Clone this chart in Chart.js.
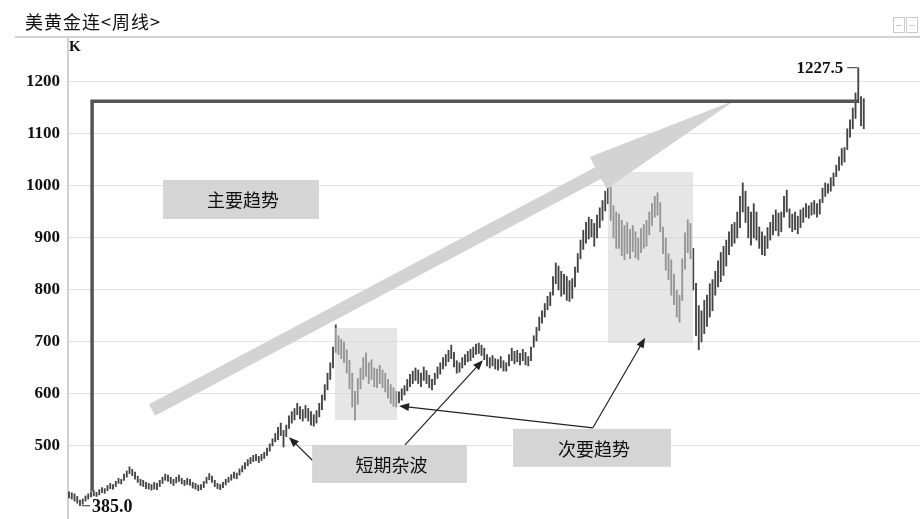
<!DOCTYPE html>
<html>
<head>
<meta charset="utf-8">
<script src="https://cdn.jsdelivr.net/npm/chart.js@4.4.0/dist/chart.umd.min.js"></script>
<style>
  html, body { margin: 0; padding: 0; background: #fff; }
  #wrap { position: relative; width: 920px; height: 519px; overflow: hidden; }
  #chart { position: absolute; left: 0; top: 0; }
  #title { position: absolute; left: 25px; top: 8px; font: 18px "Noto Sans CJK SC"; color: #111; letter-spacing: 1px; }
  #header-line { position: absolute; left: 15px; top: 36px; width: 905px; height: 2px; background: #d2d2d2; }
  #unit { position: absolute; left: 69px; top: 38px; font: bold 15px "Liberation Serif"; color: #111; }
  .ico { position: absolute; top: 17px; width: 12px; height: 16px; border: 1px solid #c9c9c9; box-sizing: border-box; }
  .ico::after { content: ""; position: absolute; left: 2px; right: 2px; top: 7px; height: 1px; background: #c9c9c9; }
</style>
</head>
<body>
<div id="wrap">
  <canvas id="chart" width="920" height="519"></canvas>
  <div id="title">美黄金连&lt;周线&gt;</div>
  <div id="header-line"></div>
  <div id="unit">K</div>
  <div class="ico" style="left:893px"></div>
  <div class="ico" style="left:906px"></div>
</div>
<script>
// weekly bars (one entry per week)
const highs = [
  412, 410, 408, 403, 396, 398, 404, 408, 412, 414,
  411, 416, 420, 418, 424, 428, 426, 432, 438, 436,
  446, 452, 460, 455, 450, 442, 436, 434, 430, 428,
  426, 430, 428, 434, 440, 446, 444, 440, 436, 440,
  444, 438, 434, 438, 436, 430, 428, 425, 426, 432,
  440, 447, 442, 434, 428, 426, 430, 436, 440, 445,
  450, 448, 456, 462, 468, 474, 478, 482, 484, 480,
  484, 488, 496, 504, 514, 524, 536, 544, 530, 540,
  558, 566, 572, 582, 576, 570, 578, 572, 566, 560,
  568, 582, 598, 618, 640, 660, 690, 733, 712, 705,
  700, 685, 665, 640, 605, 630, 650, 670, 679, 660,
  666, 650, 648, 655, 646, 640, 628, 618, 612, 605,
  604, 610, 616, 628, 638, 644, 650, 646, 640, 652,
  645, 636, 628, 640, 652, 660, 670, 676, 684, 694,
  680, 664, 660, 670, 676, 682, 686, 690, 696, 698,
  694, 688, 676, 670, 674, 668, 666, 672, 664, 660,
  676, 688, 682, 684, 678, 686, 680, 672, 690, 712,
  728, 748, 760, 774, 788, 796, 826, 852, 846, 836,
  830, 826, 818, 822, 844, 870, 896, 915, 930, 940,
  936, 928, 944, 958, 972, 990, 1004, 998, 962, 950,
  946, 934, 924, 930, 916, 924, 912, 900, 918, 926,
  934, 950, 966, 980, 987, 968, 921, 900, 870, 858,
  830, 800, 790, 860, 910, 935, 928, 880, 813, 770,
  760, 780, 790, 812, 820, 836, 856, 872, 884, 896,
  912, 926, 930, 950, 980, 1006, 990, 960, 950, 966,
  950, 921, 912, 904, 920, 930, 944, 954, 948, 950,
  980, 992, 956, 946, 950, 942, 954, 958, 966, 962,
  968, 972, 966, 974, 996, 1006, 1004, 1016, 1025, 1040,
  1056, 1072, 1074, 1110, 1127, 1150, 1179, 1227.5, 1172, 1168
];
const lows = [
  400, 398, 394, 390, 385, 388, 394, 398, 402, 404,
  403, 406, 410, 409, 414, 418, 417, 422, 428, 427,
  434, 440, 447, 443, 436, 430, 424, 422, 418, 417,
  415, 417, 416, 422, 428, 434, 432, 428, 424, 429,
  432, 427, 424, 426, 424, 419, 417, 414, 416, 420,
  428, 435, 430, 422, 418, 416, 420, 425, 430, 434,
  438, 437, 444, 450, 456, 462, 466, 470, 472, 468,
  472, 476, 482, 490, 500, 508, 512, 520, 498, 518,
  534, 544, 550, 560, 552, 548, 554, 548, 540, 538,
  544, 556, 570, 588, 608, 628, 650, 680, 676, 668,
  660, 640, 610, 575, 550, 580, 610, 628, 634, 620,
  628, 614, 612, 620, 612, 604, 592, 582, 576, 575,
  583, 588, 598, 606, 614, 620, 626, 620, 614, 626,
  620, 612, 608, 618, 630, 638, 648, 654, 662, 668,
  652, 640, 642, 650, 656, 662, 664, 670, 676, 678,
  674, 666, 654, 650, 654, 648, 646, 650, 644, 644,
  654, 664, 658, 662, 656, 664, 656, 654, 664, 690,
  702, 722, 736, 748, 762, 770, 790, 812, 800, 788,
  792, 780, 778, 784, 806, 834, 860, 878, 890, 898,
  902, 884, 900, 920, 934, 952, 966, 934, 900, 880,
  880, 866, 858, 870, 860, 874, 862, 858, 872, 880,
  884, 906, 924, 940, 944, 912, 870, 838, 820, 790,
  772, 748, 738, 780, 840, 872, 860, 800, 712, 685,
  700, 716, 730, 748, 760, 790, 806, 816, 828, 846,
  868, 884, 890, 900, 920, 950, 930, 900, 886, 900,
  896, 880, 868, 866, 880, 896, 906, 914, 904, 912,
  940, 950, 920, 912, 916, 908, 920, 930, 940, 938,
  944, 946, 940, 946, 968, 980, 986, 990, 1000, 1018,
  1030, 1040, 1046, 1070, 1094, 1110, 1130, 1160, 1116, 1110
];
const yTicks = [500, 600, 700, 800, 900, 1000, 1100, 1200];

// annotations, in chart units (week index, price)
const notes = {
  frame: [[8.4, 413], [8.4, 1163], [286.9, 1163]],
  trend: [[30.2, 569], [242.2, 1165]],
  shade: [[96.7, 727, 119.3, 550], [196, 1027, 226.9, 698]],
  tags: [
    { text: '主要趋势', box: [34.2, 1011.5, 90.9, 936.5] },
    { text: '短期杂波', box: [88.4, 502, 144.7, 429] },
    { text: '次要趋势', box: [161.5, 533, 218.9, 460] }
  ],
  pointers: [
    [[88.4, 473], [80, 517]],
    [[122.2, 502], [150.5, 665]],
    [[190.5, 535], [120, 577]],
    [[190.5, 535], [209.5, 708]]
  ]
};

const annotate = {
  id: 'annotate',
  afterDatasetsDraw(chart) {
    const ctx = chart.ctx;
    const xs = chart.scales.x, ys = chart.scales.y;
    const P = ([i, v]) => [xs.getPixelForValue(i), ys.getPixelForValue(v)];
    ctx.save();

    // shaded zones
    ctx.fillStyle = 'rgba(211,211,211,0.57)';
    notes.shade.forEach(([i0, v0, i1, v1]) => {
      const [x0, y0] = P([i0, v0]), [x1, y1] = P([i1, v1]);
      ctx.fillRect(x0, y0, x1 - x0, y1 - y0);
    });

    // big trend arrow
    const [a, b] = notes.trend.map(P);
    const dx = b[0] - a[0], dy = b[1] - a[1], len = Math.hypot(dx, dy);
    const u = [dx / len, dy / len], n = [-u[1], u[0]];
    const sw = 6.5, hw = 18, hl = 155;
    const base = [b[0] - u[0] * hl, b[1] - u[1] * hl];
    const off = (p, k) => [p[0] + n[0] * k, p[1] + n[1] * k];
    const poly = [off(a, sw), off(base, sw), off(base, hw), b, off(base, -hw), off(base, -sw), off(a, -sw)];
    ctx.fillStyle = '#d3d3d3';
    ctx.beginPath();
    poly.forEach((p, k) => k ? ctx.lineTo(p[0], p[1]) : ctx.moveTo(p[0], p[1]));
    ctx.closePath();
    ctx.fill();

    // L frame
    ctx.strokeStyle = '#555';
    ctx.lineWidth = 3.5;
    ctx.beginPath();
    notes.frame.map(P).forEach((p, k) => k ? ctx.lineTo(p[0], p[1]) : ctx.moveTo(p[0], p[1]));
    ctx.stroke();

    // tag boxes
    ctx.font = '18px "Noto Sans CJK SC"';
    ctx.textAlign = 'center';
    ctx.textBaseline = 'middle';
    notes.tags.forEach(t => {
      const [x0, y0] = P([t.box[0], t.box[1]]), [x1, y1] = P([t.box[2], t.box[3]]);
      ctx.fillStyle = '#d5d5d5';
      ctx.fillRect(x0, y0, x1 - x0, y1 - y0);
      ctx.fillStyle = '#111';
      ctx.fillText(t.text, (x0 + x1) / 2 + 2, (y0 + y1) / 2 + 1);
    });

    // thin pointers
    ctx.strokeStyle = '#222';
    ctx.fillStyle = '#222';
    ctx.lineWidth = 1.2;
    notes.pointers.forEach(([from, to]) => {
      const [x0, y0] = P(from), [x1, y1] = P(to);
      const l = Math.hypot(x1 - x0, y1 - y0);
      const ux = (x1 - x0) / l, uy = (y1 - y0) / l;
      ctx.beginPath();
      ctx.moveTo(x0, y0);
      ctx.lineTo(x1 - ux * 6, y1 - uy * 6);
      ctx.stroke();
      ctx.beginPath();
      ctx.moveTo(x1, y1);
      ctx.lineTo(x1 - ux * 10 - uy * 4, y1 - uy * 10 + ux * 4);
      ctx.lineTo(x1 - ux * 10 + uy * 4, y1 - uy * 10 - ux * 4);
      ctx.closePath();
      ctx.fill();
    });

    // low / high marks
    const lo = lows.indexOf(Math.min(...lows));
    const hi = highs.indexOf(Math.max(...highs));
    ctx.font = 'bold 18px "Liberation Serif"';
    ctx.lineWidth = 1;
    ctx.strokeStyle = '#333';
    let [x, y] = P([lo, lows[lo]]);
    ctx.beginPath(); ctx.moveTo(x + 2, y); ctx.lineTo(x + 10, y); ctx.stroke();
    ctx.fillStyle = '#111';
    ctx.textAlign = 'left';
    ctx.fillText(lows[lo].toFixed(1), x + 12, y + 2);
    [x, y] = P([hi, highs[hi]]);
    ctx.beginPath(); ctx.moveTo(x - 11, y); ctx.lineTo(x - 1, y); ctx.stroke();
    ctx.font = 'bold 17px "Liberation Serif"';
    ctx.textAlign = 'right';
    ctx.fillText(highs[hi].toFixed(1), x - 15, y + 1);

    ctx.restore();
  }
};

new Chart(document.getElementById('chart'), {
  type: 'bar',
  data: {
    datasets: [{
      data: highs.map((h, i) => ({ x: i, y: [lows[i], h] })),
      backgroundColor: '#444',
      barThickness: 1.2,
      grouped: false
    }]
  },
  options: {
    responsive: false,
    animation: false,
    devicePixelRatio: 1,
    layout: { padding: { top: 38, left: 0, right: 0, bottom: 0 } },
    plugins: { legend: { display: false }, tooltip: { enabled: false } },
    scales: {
      x: { type: 'linear', offset: false, min: -0.364, max: 309.45, display: false },
      y: {
        min: 359.6,
        max: 1284.6,
        afterBuildTicks: s => { s.ticks = yTicks.map(v => ({ value: v })); },
        afterFit: s => { s.width = 68; s.paddingTop = 0; s.paddingBottom = 0; },
        ticks: {
          color: '#111', padding: 8,
          font: { family: 'Liberation Serif', size: 17, weight: 'bold' },
          callback: v => String(v)
        },
        grid: { color: '#e3e3e3', lineWidth: 1, drawTicks: false },
        border: { color: '#d0d0d0', width: 2 }
      }
    }
  },
  plugins: [annotate]
});
</script>
</body>
</html>
